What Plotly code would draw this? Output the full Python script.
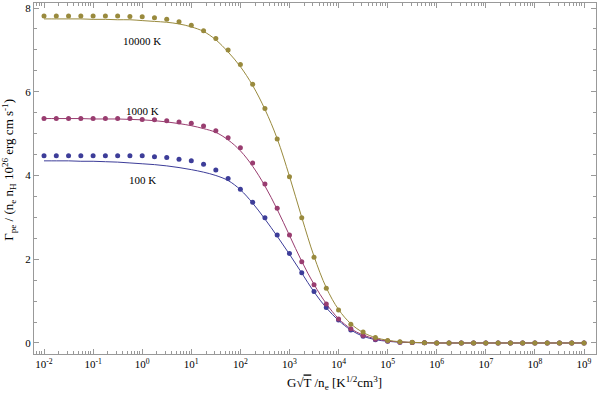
import plotly.graph_objects as go

# x grid: exponents of G*sqrt(T)/n_e (quarter decades)
log_g = [-2.0, -1.75, -1.5, -1.25, -1.0, -0.75, -0.5, -0.25, 0.0, 0.25, 0.5, 0.75,
         1.0, 1.25, 1.5, 1.75, 2.0, 2.25, 2.5, 2.75, 3.0, 3.25, 3.5, 3.75,
         4.0, 4.25, 4.5, 4.75, 5.0, 5.25, 5.5, 5.75, 6.0, 6.25, 6.5, 6.75,
         7.0, 7.25, 7.5, 7.75, 8.0, 8.25, 8.5, 8.75, 9.0]

# data points
pts_100 = [4.47, 4.47, 4.47, 4.47, 4.47, 4.47, 4.47, 4.47, 4.47, 4.45, 4.43, 4.39,
           4.35, 4.27, 4.13, 3.93, 3.67, 3.36, 2.99, 2.58, 2.14, 1.68, 1.23, 0.85,
           0.55, 0.31, 0.16, 0.08, 0.04, 0.02, 0.01, 0.005, 0, 0, 0, 0,
           0, 0, 0, 0, 0, 0, 0, 0, 0]
pts_1000 = [5.36, 5.36, 5.36, 5.36, 5.36, 5.36, 5.36, 5.36, 5.34, 5.33, 5.31, 5.28,
            5.25, 5.18, 5.07, 4.90, 4.66, 4.30, 3.80, 3.22, 2.58, 1.94, 1.39, 0.93,
            0.57, 0.34, 0.18, 0.09, 0.045, 0.02, 0.01, 0.005, 0, 0, 0, 0,
            0, 0, 0, 0, 0, 0, 0, 0, 0]
pts_10000 = [7.81, 7.81, 7.81, 7.81, 7.81, 7.81, 7.81, 7.80, 7.79, 7.77, 7.73, 7.67,
             7.59, 7.46, 7.27, 7.00, 6.65, 6.18, 5.60, 4.87, 3.97, 2.99, 2.05, 1.31,
             0.79, 0.45, 0.26, 0.13, 0.06, 0.03, 0.015, 0.007, 0, 0, 0, 0,
             0, 0, 0, 0, 0, 0, 0, 0, 0]

# fitted curves
fit_100 = [4.35, 4.35, 4.35, 4.34, 4.34, 4.33, 4.32, 4.30, 4.28, 4.26, 4.23, 4.19,
           4.14, 4.08, 4.00, 3.88, 3.66, 3.34, 2.96, 2.55, 2.12, 1.67, 1.22, 0.84,
           0.54, 0.31, 0.16, 0.08, 0.04, 0.02, 0.01, 0.005, 0, 0, 0, 0,
           0, 0, 0, 0, 0, 0, 0, 0, 0]
fit_1000 = [5.36, 5.36, 5.36, 5.36, 5.35, 5.35, 5.35, 5.34, 5.33, 5.31, 5.28, 5.24,
            5.19, 5.12, 5.03, 4.85, 4.59, 4.22, 3.75, 3.19, 2.57, 1.95, 1.40, 0.94,
            0.58, 0.34, 0.19, 0.10, 0.05, 0.025, 0.012, 0.005, 0, 0, 0, 0,
            0, 0, 0, 0, 0, 0, 0, 0, 0]
fit_10000 = [7.74, 7.74, 7.74, 7.74, 7.73, 7.73, 7.72, 7.72, 7.70, 7.68, 7.66, 7.62,
             7.55, 7.44, 7.24, 6.95, 6.60, 6.15, 5.58, 4.88, 3.98, 3.00, 2.07, 1.32,
             0.80, 0.46, 0.25, 0.13, 0.065, 0.03, 0.015, 0.007, 0, 0, 0, 0,
             0, 0, 0, 0, 0, 0, 0, 0, 0]

labels = ["100 K", "1000 K", "10000 K"]
label_pos = [(0.0, 3.90), (0.0, 5.55), (0.0, 7.22)]
colors = ["#3d3d99", "#993d70", "#998a3d"]

x = [10 ** e for e in log_g]
tick_exp = list(range(-2, 10))
tick_vals = [10.0 ** k for k in tick_exp]
tick_text = ["10<sup>%d</sup>" % k for k in tick_exp]
minor_vals = [m * 10.0 ** k for k in range(-3, 10) for m in range(2, 10)]

fig = go.Figure()
for fit, pts, col in zip([fit_100, fit_1000, fit_10000], [pts_100, pts_1000, pts_10000], colors):
    fig.add_trace(go.Scatter(x=x, y=fit, mode="lines", line=dict(color=col, width=1, shape="spline"),
                             showlegend=False))
    fig.add_trace(go.Scatter(x=x, y=pts, mode="markers", marker=dict(color=col, size=5),
                             showlegend=False))

for lab, (lx, ly) in zip(labels, label_pos):
    fig.add_annotation(x=lx, y=ly, text=lab, showarrow=False,
                       font=dict(family="Liberation Serif", size=11, color="black"))

title_font = dict(family="Liberation Serif", size=13, color="black")
# axis titles as paper annotations (the x title sits right of centre in the original)
fig.add_annotation(xref="paper", yref="paper", x=0.534, y=-0.082, xanchor="center", yanchor="middle",
                   showarrow=False,
                   text="G√<span style='text-decoration:overline'>T</span> /n<sub>e</sub> [K<sup>1/2</sup>cm<sup>3</sup>]",
                   font=title_font)
fig.add_annotation(xref="paper", yref="paper", x=-0.045, y=0.524, xanchor="center", yanchor="middle",
                   showarrow=False, textangle=-90,
                   text="Γ<sub>pe</sub> / (n<sub>e</sub> n<sub>H</sub> 10<sup>26</sup> erg cm s<sup>-1</sup>)",
                   font=title_font)

axis_common = dict(showgrid=False, zeroline=False, showline=True, linecolor="#999999",
                   mirror="allticks", ticks="inside", tickcolor="#999999", ticklen=5,
                   automargin=False,
                   tickfont=dict(family="Liberation Serif", size=11, color="black"))

fig.update_xaxes(type="log", range=[-2.204, 9.244], tickvals=tick_vals, ticktext=tick_text,
                 minor=dict(tickvals=minor_vals, ticks="inside", ticklen=3, tickcolor="#999999"),
                 **axis_common)
fig.update_yaxes(range=[-0.263, 8.12], tickvals=[0, 2, 4, 6, 8],
                 minor=dict(dtick=0.5, ticks="inside", ticklen=3, tickcolor="#999999"),
                 **axis_common)

fig.update_layout(width=600, height=396, margin=dict(l=34, r=4, t=3, b=42),
                  plot_bgcolor="white", paper_bgcolor="white")

# the page's default body margin would shift the figure, so drop it
fig.write_html("out.html", config={"displayModeBar": False},
               post_script="document.body.style.margin='0';")
